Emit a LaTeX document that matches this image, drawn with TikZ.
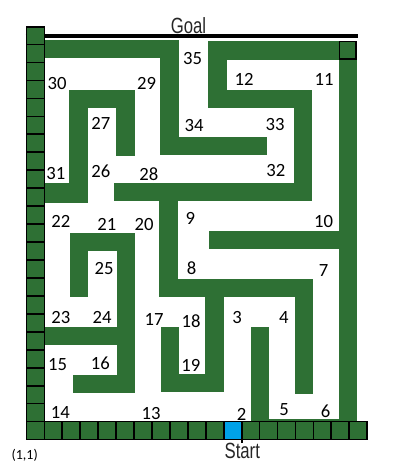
\documentclass[tikz,border=0pt]{standalone}
\usepackage{graphicx}
\usepackage{fontspec}
\setmainfont{Carlito}
\newfontfamily\narrowfont{Liberation Sans}
\definecolor{wallgreen}{RGB}{46,112,52}
\definecolor{startblue}{RGB}{0,162,232}
\begin{document}
\begin{tikzpicture}[x=0.75pt,y=-0.75pt,
  wall/.style={fill=wallgreen},
  cellbox/.style={fill=wallgreen, draw=black, line width=1.3pt},
  startbox/.style={fill=startblue, draw=black, line width=1.3pt},
  lbl/.style={font=\fontsize{14}{16}\selectfont, inner sep=0pt, text=black},
  bigtxt/.style={font=\fontsize{16.5}{18}\selectfont\narrowfont, inner sep=0pt, anchor=base, text=black!85}]
\useasboundingbox (0,0) rectangle (408,476);

% walls
\fill[wall] (43.3,40) rectangle (179,57.7);
\fill[wall] (160,40) rectangle (179,155);
\fill[wall] (160,136.7) rectangle (266.7,155);
\fill[wall] (208,41.3) rectangle (356.7,59.7);
\fill[wall] (208,41.3) rectangle (226.7,107.7);
\fill[wall] (208,90) rectangle (311.7,107.7);
\fill[wall] (294,90) rectangle (311.7,200.7);
\fill[wall] (114.3,183.3) rectangle (311.7,200.7);
\fill[wall] (159.3,183.3) rectangle (178.3,296.7);
\fill[wall] (159.3,279) rectangle (313,296.7);
\fill[wall] (295,279) rectangle (313,394);
\fill[wall] (205,279) rectangle (224,391.7);
\fill[wall] (161,374) rectangle (224,391.7);
\fill[wall] (161,327.3) rectangle (179,391.7);
\fill[wall] (339,41.3) rectangle (356.7,422.3);
\fill[wall] (209,231) rectangle (339,249);
\fill[wall] (43.3,183.3) rectangle (87.7,202.7);
\fill[wall] (69,90) rectangle (87.7,202.7);
\fill[wall] (69,90) rectangle (135,107.7);
\fill[wall] (116,90) rectangle (135,155.7);
\fill[wall] (70,232.7) rectangle (135,250.7);
\fill[wall] (70,232.7) rectangle (87.7,296.7);
\fill[wall] (116.7,232.7) rectangle (135,392.7);
\fill[wall] (43.3,327.3) rectangle (135,345);
\fill[wall] (72.7,375) rectangle (135,392.7);
\fill[wall] (251.3,326.7) rectangle (269,421.7);
\fill[wall] (251.3,419.3) rectangle (356.7,422.3);
\draw[black, line width=1.3pt] (339.6,41.6) rectangle (356.3,59.3);

% goal line
\coordinate (gl) at (25.5,36.3);
\coordinate (gr) at (357.7,36.3);
\draw[black, line width=3pt] (gl) -- (gr);

% left column cells
\foreach \k in {0,...,22}
  \draw[cellbox] (26.5,{439.5-(\k+1)*17.95}) rectangle (44.4,{439.5-\k*17.95});
% bottom row cells
\foreach \k in {0,...,18}
  \draw[cellbox] ({26.5+\k*17.93},421.6) rectangle ({26.5+(\k+1)*17.93},439.5);
\draw[startbox] ({26.5+11*17.93},421.6) rectangle ({26.5+12*17.93},439.5);
\coordinate (t1) at (242,439.5);
\coordinate (t2) at (242,443);
\draw[black, line width=0.8pt] (t1) -- (t2);

% labels
\node[lbl] (n35) at (192.7,59) {35};
\node[lbl] (n12) at (244.2,79.7) {12};
\node[lbl] (n11) at (324.2,79.7) {11};
\node[lbl] (n30) at (57,83.5) {30};
\node[lbl] (n29) at (146.7,83.7) {29};
\node[lbl] (n27) at (100.8,123.3) {27};
\node[lbl] (n34) at (194,125.5) {34};
\node[lbl] (n33) at (275,125) {33};
\node[lbl] (n31) at (55.8,173.3) {31};
\node[lbl] (n26) at (100.8,171.2) {26};
\node[lbl] (n28) at (148.8,174) {28};
\node[lbl] (n32) at (275.8,170.8) {32};
\node[lbl] (n22) at (60.8,221) {22};
\node[lbl] (n21) at (106.8,224.3) {21};
\node[lbl] (n20) at (144.2,224.3) {20};
\node[lbl] (n9) at (190.3,218.8) {9};
\node[lbl] (n10) at (323.5,221.2) {10};
\node[lbl] (n25) at (104.2,268.8) {25};
\node[lbl] (n8) at (191.7,268) {8};
\node[lbl] (n7) at (323.5,270.8) {7};
\node[lbl] (n23) at (60.8,317.5) {23};
\node[lbl] (n24) at (102,317.5) {24};
\node[lbl] (n17) at (154.2,319.2) {17};
\node[lbl] (n18) at (191,321) {18};
\node[lbl] (n3) at (237,317.8) {3};
\node[lbl] (n4) at (283.8,317.8) {4};
\node[lbl] (n15) at (57.5,364.5) {15};
\node[lbl] (n16) at (100.3,363.7) {16};
\node[lbl] (n19) at (190.8,365) {19};
\node[lbl] (n14) at (60.3,412.5) {14};
\node[lbl] (n13) at (151.2,413.3) {13};
\node[lbl] (n2) at (241.7,414.5) {2};
\node[lbl] (n5) at (284,409.7) {5};
\node[lbl] (n6) at (325.5,411.5) {6};
\node[lbl, font=\fontsize{10.5}{12}\selectfont] (n11b) at (24.7,455) {(1,1)};
\node[bigtxt] (goal) at (188.5,33) {\scalebox{0.76}[1]{Goal}};
\node[bigtxt] (start) at (242.3,458) {\scalebox{0.76}[1]{Start}};
\end{tikzpicture}
\end{document}
